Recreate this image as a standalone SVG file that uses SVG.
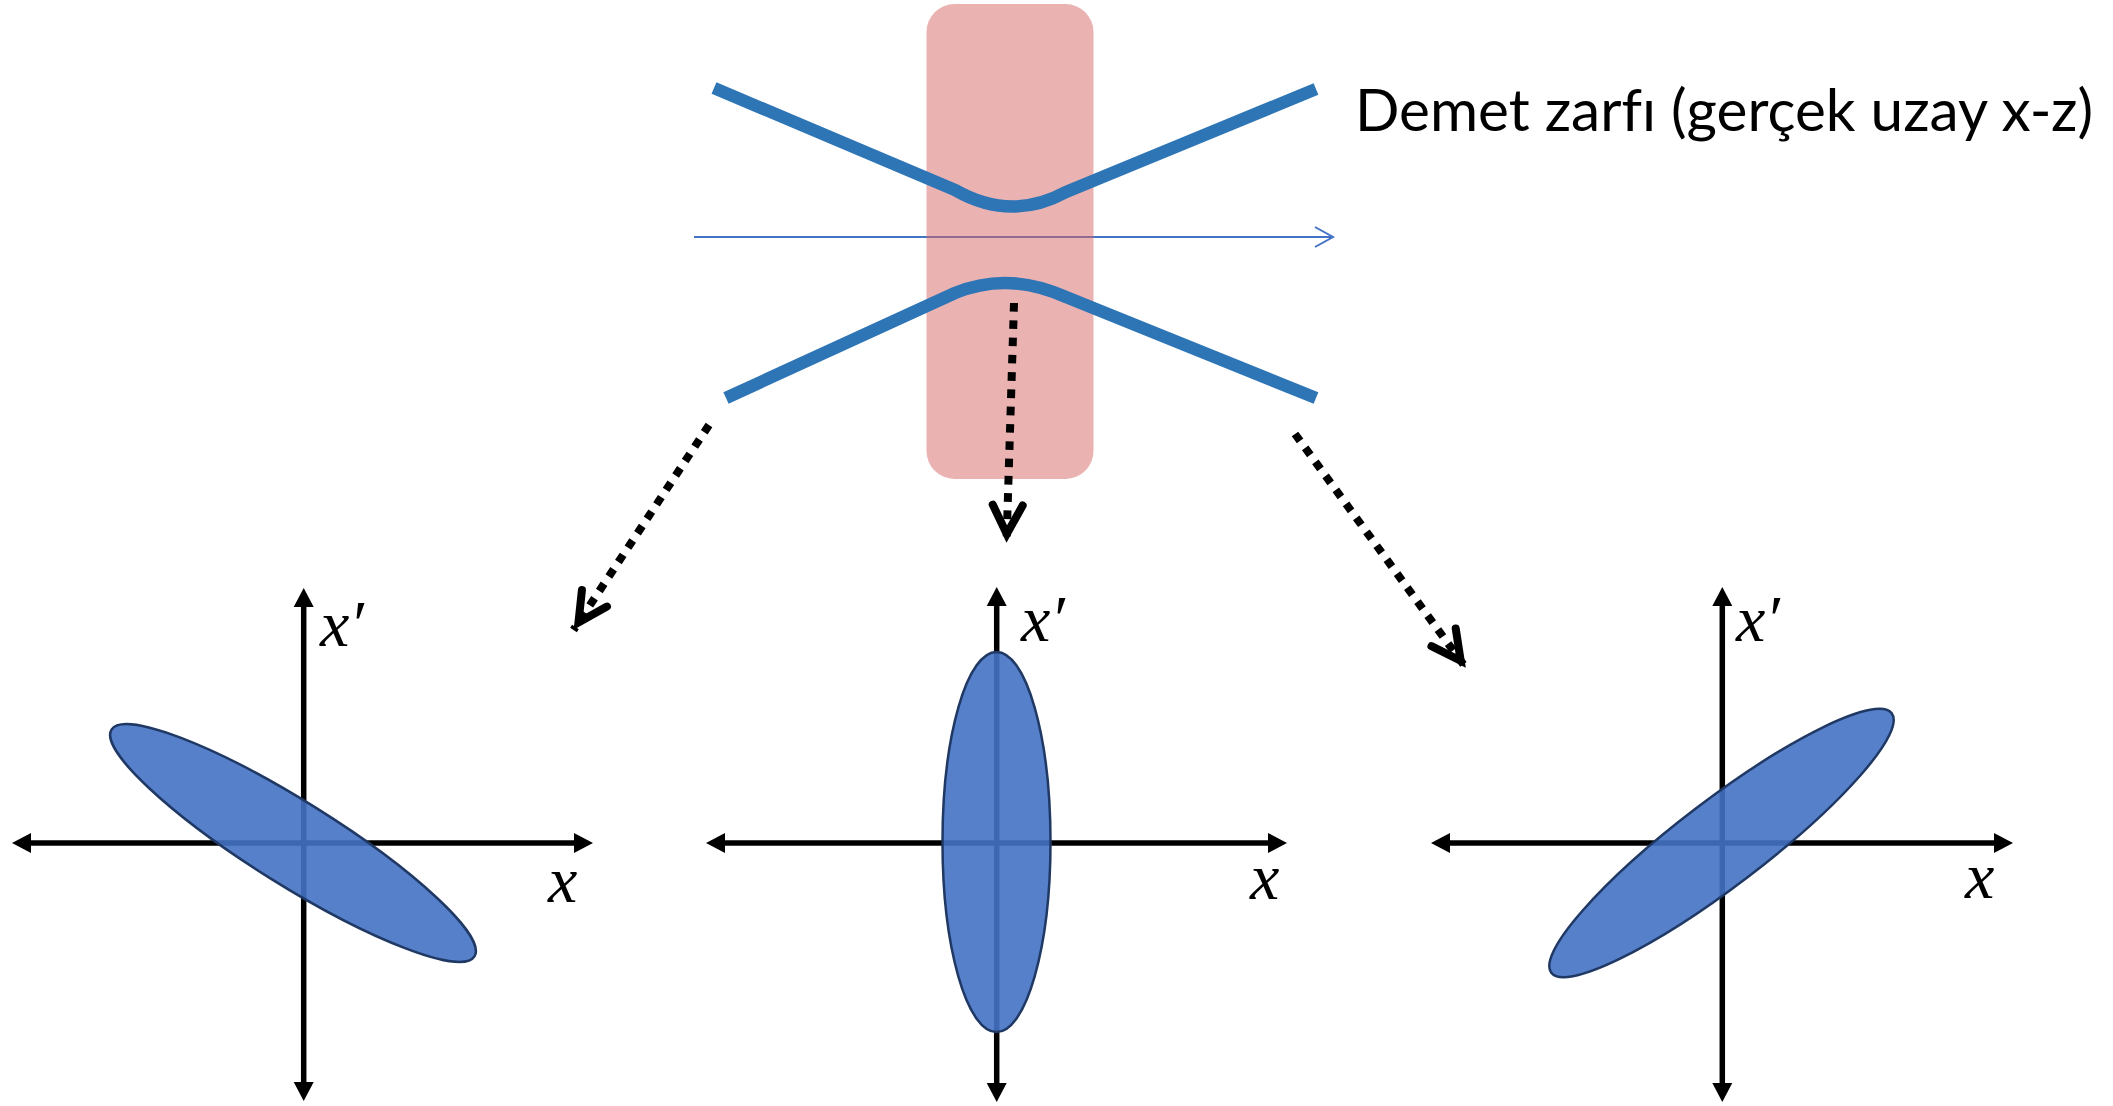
<svg xmlns="http://www.w3.org/2000/svg" width="2113" height="1106" viewBox="0 0 2113 1106">
  <style>
    .beam { fill: none; stroke: #2E75B6; stroke-width: 12.5; stroke-linecap: butt; stroke-linejoin: round; }
    .axis { fill: none; stroke: #000; stroke-width: 5.5; marker-start: url(#tri); marker-end: url(#tri); }
    .ell { fill: #4472C4; fill-opacity: 0.9; stroke: #1F3864; stroke-width: 2.5; }
    .dots { fill: none; stroke: #000; stroke-width: 8; stroke-dasharray: 8.6 8.7; marker-end: url(#chev); }
    .lbl { font-family: "Liberation Serif", "DejaVu Serif", serif; font-style: italic; font-size: 66px; fill: #000; }
    .title { font-family: Lato, "Open Sans", "Liberation Sans", sans-serif; font-size: 58px; fill: #000; font-variant-ligatures: none; font-feature-settings: "liga" 0, "clig" 0; }
  </style>
  <defs>
    <marker id="tri" markerUnits="userSpaceOnUse" viewBox="-2 -12 24 24" markerWidth="24" markerHeight="24" refX="0" refY="0" orient="auto-start-reverse" overflow="visible">
      <path d="M0,-10 L19,0 L0,10 Z" fill="#000"/>
    </marker>
    <marker id="chev" markerUnits="userSpaceOnUse" viewBox="-50 -25 60 50" markerWidth="60" markerHeight="50" refX="0" refY="0" orient="auto" overflow="visible">
      <path d="M-38,-15 L-9,0 L-38,15" fill="none" stroke="#000" stroke-width="8" stroke-linejoin="miter" stroke-miterlimit="10" stroke-linecap="round"/>
    </marker>
    <marker id="open" markerUnits="userSpaceOnUse" viewBox="-22 -12 26 24" markerWidth="26" markerHeight="24" refX="0" refY="0" orient="auto" overflow="visible">
      <path d="M-18,-10 L0,0 L-18,10" fill="none" stroke="#4472C4" stroke-width="2"/>
    </marker>
  </defs>

  <rect width="2113" height="1106" fill="#fff"/>

  <g id="beam-envelope">
    <line id="axis-z" x1="694" y1="237" x2="1333" y2="237" stroke="#4472C4" stroke-width="2" marker-end="url(#open)"/>
    <rect id="focus-region" x="926.5" y="4" width="167" height="475" rx="28" ry="28" fill="#D76565" fill-opacity="0.5"/>
    <path id="beam-top" class="beam" d="M714,88 L955,190 Q1011,222 1066,192 L1316,89"/>
    <path id="beam-bottom" class="beam" d="M726,398 L955,293 Q1008,271 1066,297 L1316,398"/>
  </g>

  <g id="title">
    <text class="title" x="1355" y="131" textLength="738" lengthAdjust="spacingAndGlyphs">Demet zarfı (gerçek uzay x-z)</text>
  </g>

  <g id="connectors">
    <path class="dots" d="M709,425 L573.5,630"/>
    <path class="dots" d="M1014,303 L1006.5,543"/>
    <path class="dots" d="M1295,434 L1466,668"/>
  </g>

  <g id="phase-left">
    <line class="axis" x1="31" y1="843" x2="574" y2="843"/>
    <line class="axis" x1="303.7" y1="607" x2="303.7" y2="1082"/>
    <ellipse class="ell" cx="293" cy="843" rx="214" ry="42" transform="rotate(32 293 843)"/>
    <text class="lbl" x="320" y="646">x′</text>
    <text class="lbl" x="548" y="902">x</text>
  </g>

  <g id="phase-middle">
    <line class="axis" x1="725" y1="843" x2="1268" y2="843"/>
    <line class="axis" x1="996.7" y1="606" x2="996.7" y2="1083"/>
    <ellipse class="ell" cx="996.5" cy="842" rx="54" ry="190"/>
    <text class="lbl" x="1021" y="641">x′</text>
    <text class="lbl" x="1250" y="899">x</text>
  </g>

  <g id="phase-right">
    <line class="axis" x1="1450" y1="843" x2="1994" y2="843"/>
    <line class="axis" x1="1722.3" y1="606" x2="1722.3" y2="1083"/>
    <ellipse class="ell" cx="1721.5" cy="843" rx="214" ry="43" transform="rotate(-37.3 1721.5 843)"/>
    <text class="lbl" x="1736" y="641">x′</text>
    <text class="lbl" x="1965" y="898">x</text>
  </g>
</svg>
